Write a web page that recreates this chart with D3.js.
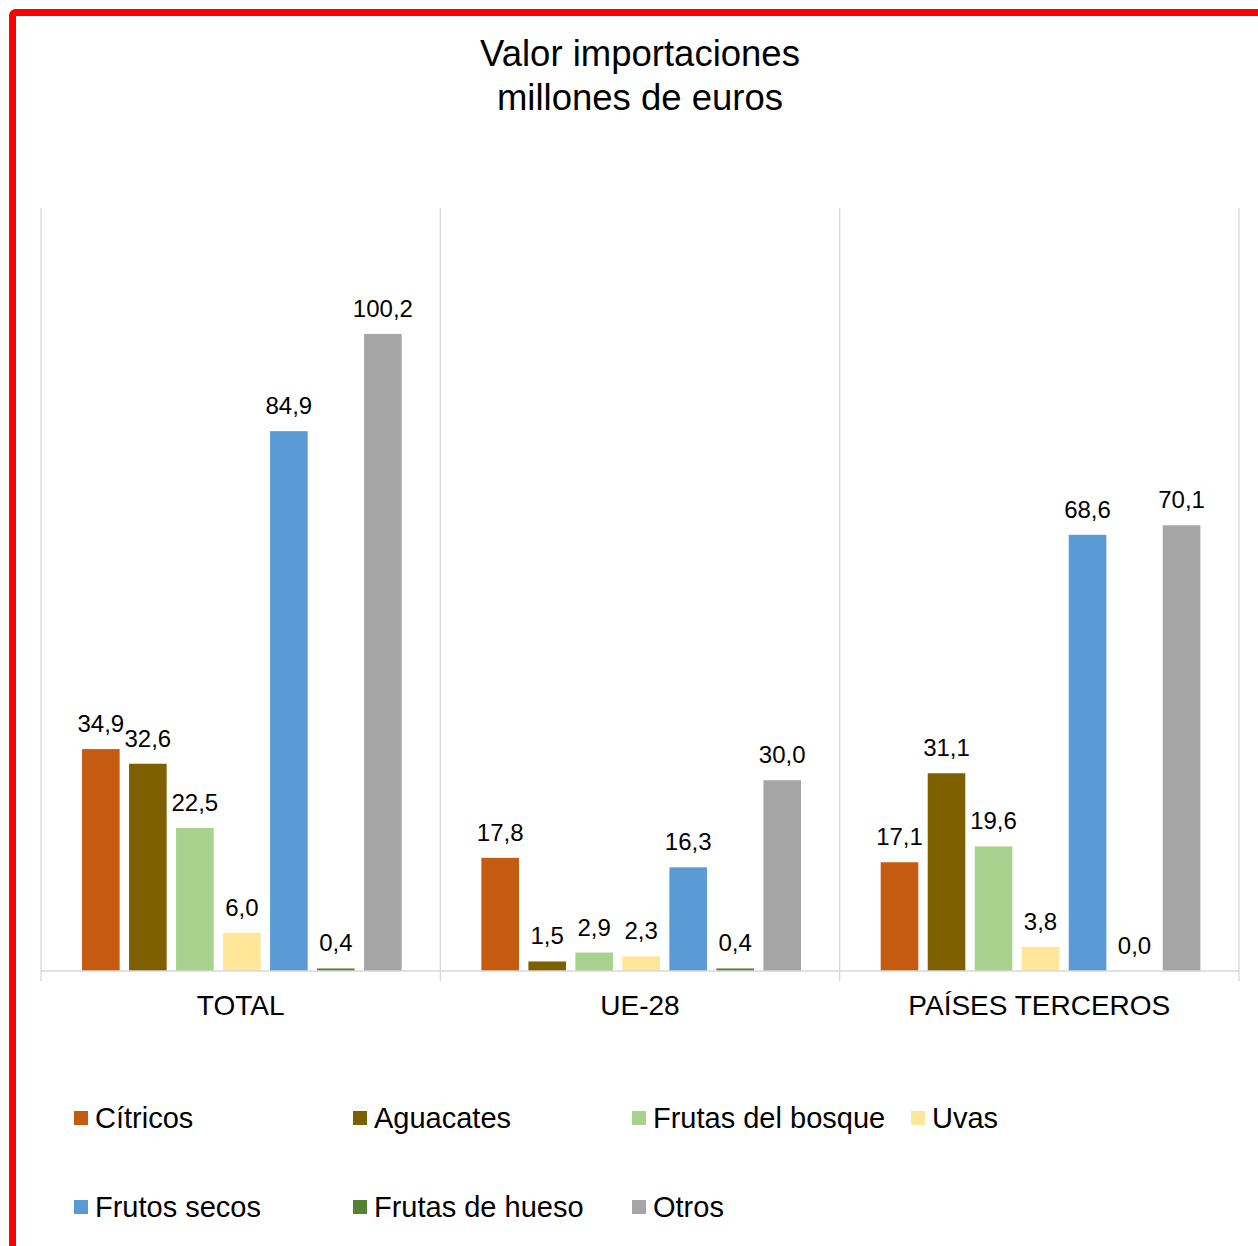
<!DOCTYPE html>
<html><head><meta charset="utf-8">
<script src="https://cdn.jsdelivr.net/npm/d3@7"></script>
<style>body{margin:0;background:#fff}svg{display:block;font-family:"Liberation Sans",Arial,sans-serif}</style>
</head><body><svg id="c" width="1258" height="1246"></svg>
<script>
const categories = ["TOTAL", "UE-28", "PAÍSES TERCEROS"];
const series = ["Cítricos", "Aguacates", "Frutas del bosque", "Uvas", "Frutos secos", "Frutas de hueso", "Otros"];
const colors = ["#C55A11", "#7F6000", "#A9D18E", "#FFE699", "#5B9BD5", "#548235", "#A5A5A5"];
const citricos = [34.9, 17.8, 17.1];
const aguacates = [32.6, 1.5, 31.1];
const frutasBosque = [22.5, 2.9, 19.6];
const uvas = [6.0, 2.3, 3.8];
const frutosSecos = [84.9, 16.3, 68.6];
const frutasHueso = [0.4, 0.4, 0.0];
const otros = [100.2, 30.0, 70.1];
const values = [citricos, aguacates, frutasBosque, uvas, frutosSecos, frutasHueso, otros];
const titleLines = ["Valor importaciones", "millones de euros"];

const svg = d3.select("#c");
svg.append("rect").attr("x", 12.5).attr("y", 12.5).attr("width", 1400).attr("height", 1400)
  .attr("rx", 3).attr("fill", "#fff").attr("stroke", "#FF0000").attr("stroke-width", 7);

const L = 41, R = 1239, T = 208, B = 971;
const x0 = d3.scaleBand().domain(categories).range([L, R]).padding(0);
const bw = x0.bandwidth();
const x1 = d3.scaleBand().domain(series).range([bw * 0.091, bw * 0.915]).paddingInner(0.2).paddingOuter(0.1);
const y = d3.scaleLinear().domain([0, 120]).range([B, T]);

// vertical dividers
const divs = [L, ...categories.map(c => x0(c) + bw)];
svg.append("g").selectAll("line").data(divs).join("line")
  .attr("x1", d => d).attr("x2", d => d).attr("y1", T).attr("y2", B + 10)
  .attr("stroke", "#D9D9D9").attr("stroke-width", 1.3);

// bars
const g = svg.append("g");
categories.forEach((c, ci) => {
  series.forEach((s, si) => {
    const v = values[si][ci];
    const bx = x0(c) + x1(s);
    g.append("rect").attr("x", bx).attr("width", x1.bandwidth())
      .attr("y", y(v)).attr("height", B - y(v)).attr("fill", colors[si]);
    g.append("text").attr("x", bx + x1.bandwidth() / 2).attr("y", y(v) - 17)
      .attr("text-anchor", "middle").attr("font-size", 24).attr("fill", "#000")
      .text(d3.format(".1f")(v).replace(".", ","));
  });
});

// baseline
svg.append("line").attr("x1", L).attr("x2", R).attr("y1", B).attr("y2", B)
  .attr("stroke", "#D9D9D9").attr("stroke-width", 1.3);

// category labels
svg.append("g").selectAll("text").data(categories).join("text")
  .attr("x", d => x0(d) + bw / 2).attr("y", 1015).attr("text-anchor", "middle")
  .attr("font-size", 28).attr("fill", "#000").text(d => d);

// title
svg.append("g").selectAll("text").data(titleLines).join("text")
  .attr("x", 640).attr("y", (d, i) => 66 + i * 44).attr("text-anchor", "middle")
  .attr("font-size", 36.5).attr("fill", "#000").text(d => d);

// legend
const lg = svg.append("g");
series.forEach((s, i) => {
  const col = i % 4, row = Math.floor(i / 4);
  const lx = 74 + col * 279, ly = 1118 + row * 89;
  lg.append("rect").attr("x", lx).attr("y", ly - 7).attr("width", 14).attr("height", 14).attr("fill", colors[i]);
  lg.append("text").attr("x", lx + 21).attr("y", ly + 10).attr("font-size", 29).attr("fill", "#000").text(s);
});
</script></body></html>
